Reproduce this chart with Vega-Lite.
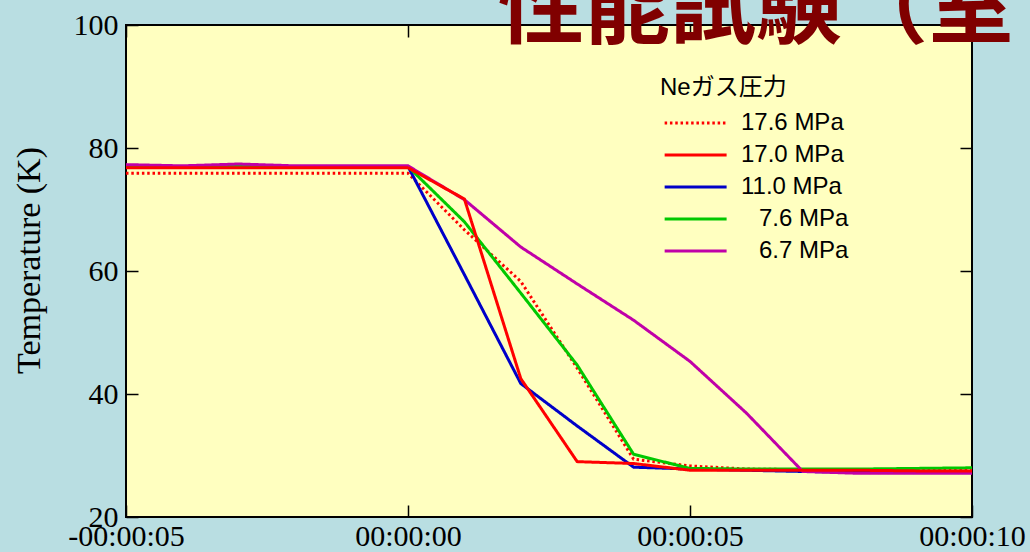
{
  "$schema": "https://vega.github.io/schema/vega-lite/v6.json",
  "width": 846,
  "height": 492,
  "autosize": {"type": "none"},
  "padding": {"left": 126, "top": 25, "right": 58, "bottom": 35},
  "background": "#b9dee2",
  "title": {
    "text": "性能試験（室",
    "orient": "none",
    "anchor": "start",
    "frame": "group",
    "font": "Noto Sans CJK JP",
    "fontSize": 86,
    "fontWeight": "bold",
    "color": "#800000",
    "baseline": "alphabetic",
    "offset": 0,
    "dx": 372,
    "dy": 12
  },
  "config": {
    "view": {"fill": "#ffffc0", "stroke": "#000000", "strokeWidth": 2},
    "axis": {
      "domain": false,
      "grid": false,
      "tickColor": "#000000",
      "tickWidth": 1.5,
      "tickSize": -12,
      "labelFont": "Liberation Serif",
      "labelFontSize": 30,
      "labelColor": "#000000",
      "labelOverlap": false,
      "labelFlush": false,
      "titleFont": "Liberation Serif",
      "titleFontSize": 34,
      "titleFontWeight": "normal",
      "titleColor": "#000000"
    },
    "legend": {
      "orient": "none",
      "legendX": 534,
      "legendY": 51,
      "symbolType": "M-0.95,0L7.05,0",
      "symbolSize": 240,
      "symbolStrokeWidth": 3,
      "labelFont": "Liberation Sans",
      "labelFontSize": 24,
      "labelColor": "#000000",
      "labelOffset": 57,
      "titleFont": "Liberation Sans, Noto Sans CJK JP",
      "titleFontSize": 24,
      "titleFontWeight": "normal",
      "titleColor": "#000000",
      "titlePadding": 11,
      "rowPadding": 8
    }
  },
  "data": {
    "values": [
      {"series": "17.6 MPa", "t": -5, "temp": 75.9},
      {"series": "17.6 MPa", "t": -4, "temp": 75.9},
      {"series": "17.6 MPa", "t": -3, "temp": 75.9},
      {"series": "17.6 MPa", "t": -2, "temp": 75.9},
      {"series": "17.6 MPa", "t": -1, "temp": 75.9},
      {"series": "17.6 MPa", "t": 0, "temp": 75.9},
      {"series": "17.6 MPa", "t": 1, "temp": 66.7},
      {"series": "17.6 MPa", "t": 2, "temp": 58.3},
      {"series": "17.6 MPa", "t": 3, "temp": 44.2},
      {"series": "17.6 MPa", "t": 4, "temp": 29.4},
      {"series": "17.6 MPa", "t": 5, "temp": 28.3},
      {"series": "17.6 MPa", "t": 6, "temp": 27.8},
      {"series": "17.6 MPa", "t": 7, "temp": 27.7},
      {"series": "17.6 MPa", "t": 8, "temp": 27.7},
      {"series": "17.6 MPa", "t": 9, "temp": 27.7},
      {"series": "17.6 MPa", "t": 10, "temp": 27.7},
      {"series": "11.0 MPa", "t": -5, "temp": 77.0},
      {"series": "11.0 MPa", "t": -4, "temp": 77.0},
      {"series": "11.0 MPa", "t": -3, "temp": 77.0},
      {"series": "11.0 MPa", "t": -2, "temp": 77.0},
      {"series": "11.0 MPa", "t": -1, "temp": 77.0},
      {"series": "11.0 MPa", "t": 0, "temp": 77.0},
      {"series": "11.0 MPa", "t": 1, "temp": 59.4},
      {"series": "11.0 MPa", "t": 2, "temp": 41.7},
      {"series": "11.0 MPa", "t": 3, "temp": 34.8},
      {"series": "11.0 MPa", "t": 4, "temp": 28.1},
      {"series": "11.0 MPa", "t": 5, "temp": 27.8},
      {"series": "11.0 MPa", "t": 6, "temp": 27.6},
      {"series": "11.0 MPa", "t": 7, "temp": 27.4},
      {"series": "11.0 MPa", "t": 8, "temp": 27.3},
      {"series": "11.0 MPa", "t": 9, "temp": 27.3},
      {"series": "11.0 MPa", "t": 10, "temp": 27.3},
      {"series": "7.6 MPa", "t": -5, "temp": 77.0},
      {"series": "7.6 MPa", "t": -4, "temp": 77.0},
      {"series": "7.6 MPa", "t": -3, "temp": 77.0},
      {"series": "7.6 MPa", "t": -2, "temp": 77.0},
      {"series": "7.6 MPa", "t": -1, "temp": 77.0},
      {"series": "7.6 MPa", "t": 0, "temp": 77.0},
      {"series": "7.6 MPa", "t": 1, "temp": 68.0},
      {"series": "7.6 MPa", "t": 2, "temp": 56.4},
      {"series": "7.6 MPa", "t": 3, "temp": 44.7},
      {"series": "7.6 MPa", "t": 4, "temp": 30.2},
      {"series": "7.6 MPa", "t": 5, "temp": 27.9},
      {"series": "7.6 MPa", "t": 6, "temp": 27.8},
      {"series": "7.6 MPa", "t": 7, "temp": 27.8},
      {"series": "7.6 MPa", "t": 8, "temp": 27.8},
      {"series": "7.6 MPa", "t": 9, "temp": 27.9},
      {"series": "7.6 MPa", "t": 10, "temp": 28.0},
      {"series": "6.7 MPa", "t": -5, "temp": 77.3},
      {"series": "6.7 MPa", "t": -4, "temp": 77.1},
      {"series": "6.7 MPa", "t": -3, "temp": 77.4},
      {"series": "6.7 MPa", "t": -2, "temp": 77.1},
      {"series": "6.7 MPa", "t": -1, "temp": 77.1},
      {"series": "6.7 MPa", "t": 0, "temp": 77.1},
      {"series": "6.7 MPa", "t": 1, "temp": 71.6},
      {"series": "6.7 MPa", "t": 2, "temp": 63.9},
      {"series": "6.7 MPa", "t": 3, "temp": 57.9},
      {"series": "6.7 MPa", "t": 4, "temp": 52.0},
      {"series": "6.7 MPa", "t": 5, "temp": 45.3},
      {"series": "6.7 MPa", "t": 6, "temp": 36.9},
      {"series": "6.7 MPa", "t": 7, "temp": 27.4},
      {"series": "6.7 MPa", "t": 8, "temp": 27.1},
      {"series": "6.7 MPa", "t": 9, "temp": 27.1},
      {"series": "6.7 MPa", "t": 10, "temp": 27.1},
      {"series": "17.0 MPa", "t": -5, "temp": 76.8},
      {"series": "17.0 MPa", "t": -4, "temp": 76.8},
      {"series": "17.0 MPa", "t": -3, "temp": 76.8},
      {"series": "17.0 MPa", "t": -2, "temp": 76.8},
      {"series": "17.0 MPa", "t": -1, "temp": 76.8},
      {"series": "17.0 MPa", "t": 0, "temp": 76.8},
      {"series": "17.0 MPa", "t": 1, "temp": 71.7},
      {"series": "17.0 MPa", "t": 2, "temp": 42.5},
      {"series": "17.0 MPa", "t": 3, "temp": 29.0},
      {"series": "17.0 MPa", "t": 4, "temp": 28.7},
      {"series": "17.0 MPa", "t": 5, "temp": 27.6},
      {"series": "17.0 MPa", "t": 6, "temp": 27.6},
      {"series": "17.0 MPa", "t": 7, "temp": 27.6},
      {"series": "17.0 MPa", "t": 8, "temp": 27.6},
      {"series": "17.0 MPa", "t": 9, "temp": 27.5},
      {"series": "17.0 MPa", "t": 10, "temp": 27.5}
    ]
  },
  "layer": [
    {
      "mark": {"type": "point", "opacity": 0},
      "encoding": {
        "x": {
          "field": "t", "type": "quantitative",
          "scale": {"domain": [-5, 10], "nice": false, "zero": false},
          "axis": {"orient": "top", "labels": false, "title": null, "values": [-5, 0, 5, 10]}
        },
        "y": {
          "field": "temp", "type": "quantitative",
          "scale": {"domain": [20, 100], "nice": false, "zero": false},
          "axis": {"orient": "right", "labels": false, "title": null, "values": [20, 40, 60, 80, 100]}
        }
      }
    },
    {
      "mark": {"type": "line", "strokeWidth": 3, "strokeCap": "butt", "strokeJoin": "miter"},
      "encoding": {
        "x": {
          "field": "t", "type": "quantitative",
          "scale": {"domain": [-5, 10], "nice": false, "zero": false},
          "axis": {
            "orient": "bottom",
            "title": null,
            "values": [-5, 0, 5, 10],
            "labelPadding": 16,
            "labelExpr": "(datum.value < 0 ? '-' : '') + '00:00:' + (abs(datum.value) < 10 ? '0' : '') + abs(datum.value)"
          }
        },
        "y": {
          "field": "temp", "type": "quantitative",
          "scale": {"domain": [20, 100], "nice": false, "zero": false},
          "axis": {
            "orient": "left",
            "title": "Temperature (K)",
            "values": [20, 40, 60, 80, 100],
            "labelPadding": 20,
            "titleAngle": -90,
            "titleAlign": "center",
            "titleBaseline": "middle",
            "titleX": -97,
            "titleY": 235
          }
        },
        "color": {
          "field": "series", "type": "nominal",
          "scale": {
            "domain": ["17.6 MPa", "17.0 MPa", "11.0 MPa", "7.6 MPa", "6.7 MPa"],
            "range": ["#ff0000", "#ff0000", "#0000c8", "#00c800", "#c000a8"]
          },
          "legend": {
            "title": "Neガス圧力",
            "labelExpr": "length(datum.label) < 8 ? '⠀' + datum.label : datum.label"
          }
        },
        "strokeDash": {
          "field": "series", "type": "nominal",
          "scale": {
            "domain": ["17.6 MPa", "17.0 MPa", "11.0 MPa", "7.6 MPa", "6.7 MPa"],
            "range": [[2.5, 2.8], [1, 0], [1, 0], [1, 0], [1, 0]]
          },
          "legend": {
            "title": "Neガス圧力",
            "labelExpr": "length(datum.label) < 8 ? '⠀' + datum.label : datum.label"
          }
        }
      }
    }
  ],
  "resolve": {"axis": {"x": "independent", "y": "independent"}}
}
